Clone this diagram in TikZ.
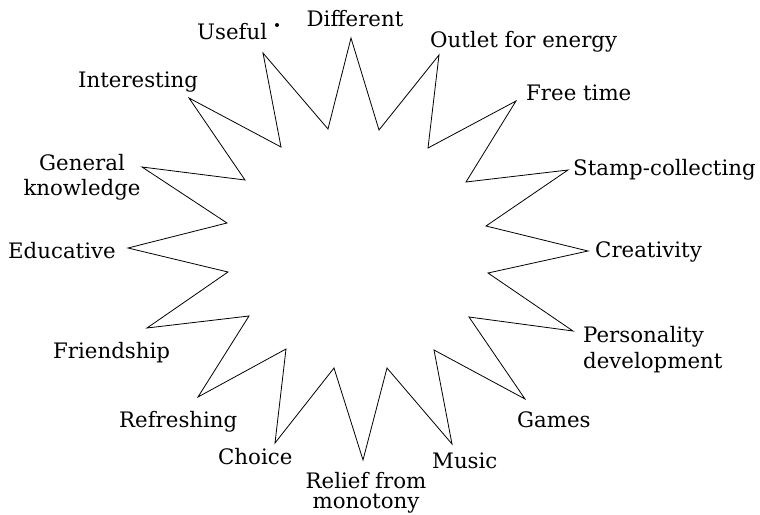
\documentclass[tikz,border=0pt]{standalone}
\usepackage{fontspec}
\setmainfont{DejaVu Serif}
\begin{document}
\begin{tikzpicture}[x=1pt,y=-1pt,
  lbl/.style={inner sep=0pt,font=\fontsize{21.3}{25.5}\selectfont},
  star/.style={draw=black,line width=0.8pt,line join=miter}]
\useasboundingbox (0,0) rectangle (760,514);
% star outline
\draw[star] (263,53) -- (281,147) -- (189,98) -- (245,180) -- (142,167)
  -- (227,223) -- (128,248) -- (228,272) -- (147,328) -- (249,316)
  -- (198,397) -- (286,349) -- (275,443) -- (334,368) -- (363,460)
  -- (387,368) -- (452,444) -- (434,350) -- (525,399) -- (469,317)
  -- (573,331) -- (488,273) -- (588,251) -- (486,226) -- (568,170)
  -- (466,182) -- (516,101) -- (428,148) -- (439,55) -- (379,130)
  -- (351,38) -- (328,129) -- cycle;
\fill (277,25) circle (2pt);
% labels
\node[lbl,anchor=base west] (useful) at (197,39) {Useful};
\node[lbl,anchor=base] (different) at (355,27) {Different};
\node[lbl,anchor=base west] (outlet) at (430,47) {Outlet for energy};
\node[lbl,anchor=base west] (free) at (526,100) {Free time};
\node[lbl,anchor=base west] (stamp) at (573,175) {Stamp-collecting};
\node[lbl,anchor=base west] (creat) at (595,257) {Creativity};
\node[lbl,anchor=base west,align=left] (pers) at (583,368) {Personality\\development};
\node[lbl,anchor=base west] (games) at (517,427) {Games};
\node[lbl,anchor=base west] (music) at (432,468) {Music};
\node[lbl,anchor=base,align=center,font=\fontsize{21.3}{20}\selectfont] (relief) at (366,508) {Relief from\\monotony};
\node[lbl,anchor=base west] (choice) at (218,464) {Choice};
\node[lbl,anchor=base west] (refresh) at (119,427) {Refreshing};
\node[lbl,anchor=base west] (friend) at (53,358) {Friendship};
\node[lbl,anchor=base west] (educ) at (8,258) {Educative};
\node[lbl,anchor=base,align=center,font=\fontsize{21.3}{25}\selectfont] (gk) at (82,195) {General\\knowledge};
\node[lbl,anchor=base west] (interest) at (78,87) {Interesting};
\end{tikzpicture}
\end{document}
